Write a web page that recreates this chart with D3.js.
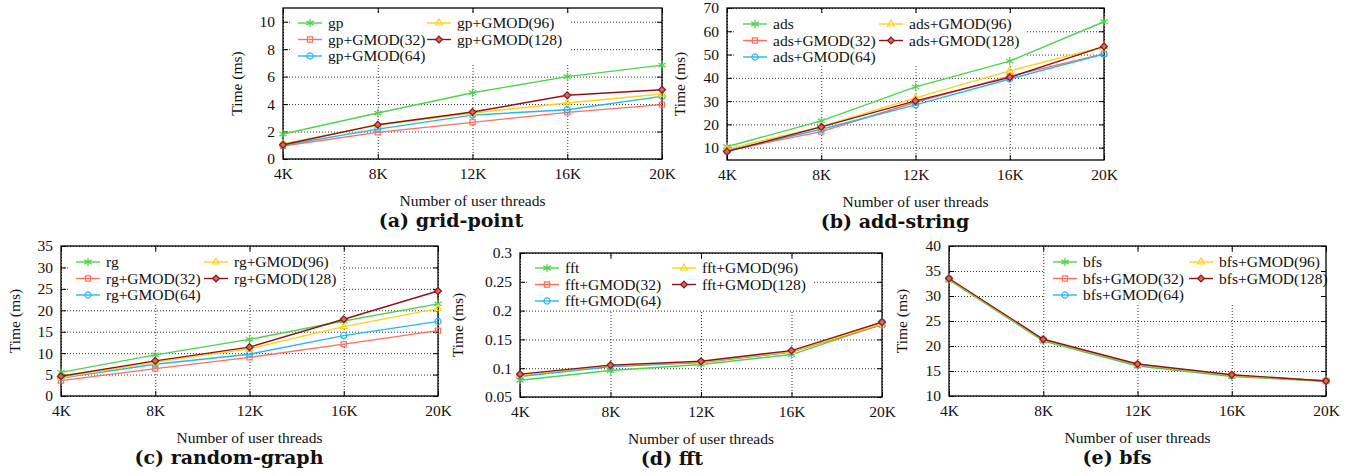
<!DOCTYPE html>
<html>
<head>
<meta charset="utf-8">
<script src="https://cdn.jsdelivr.net/npm/d3@7"></script>
<style>
  body { margin: 0; background: #fff; }
  text { font-family: "Liberation Serif", serif; fill: #111; }
  .sub { font-family: "DejaVu Serif", serif; font-weight: bold; }
</style>
</head>
<body>
<svg id="chart" width="1353" height="476"></svg>
<script>
// x categories and the five variants of every benchmark
const threads = ["4K", "8K", "12K", "16K", "20K"]
const variants = ["", "+GMOD(32)", "+GMOD(64)", "+GMOD(96)", "+GMOD(128)"]

// times in ms, one row per variant (base, 32, 64, 96, 128)
const gridPoint = [
  [1.82, 3.35, 4.83, 6.0, 6.84],
  [0.95, 1.94, 2.67, 3.40, 3.96],
  [1.0, 2.18, 3.2, 3.59, 4.56],
  [1.09, 2.48, 3.35, 4.08, 4.73],
  [1.04, 2.5, 3.42, 4.64, 5.05]
]
const addString = [
  [10.4, 21.5, 36.1, 47.2, 64.1],
  [8.7, 16.9, 29.5, 40.7, 50.3],
  [8.7, 17.9, 28.4, 39.5, 50.2],
  [9.4, 19.0, 31.4, 43.0, 53.4],
  [8.3, 18.9, 30.1, 40.2, 53.5]
]
const randomGraph = [
  [5.5, 9.6, 13.2, 17.5, 21.5],
  [3.6, 6.4, 9.0, 12.1, 15.25],
  [4.2, 7.4, 9.75, 14.1, 17.4],
  [4.3, 7.9, 11.0, 16.2, 20.4],
  [4.6, 8.2, 11.4, 17.9, 24.5]
]
const fft = [
  [0.079, 0.096, 0.1065, 0.1237, 0.176],
  [0.087, 0.103, 0.110, 0.128, 0.1756],
  [0.0857, 0.103, 0.1105, 0.1283, 0.180],
  [0.088, 0.105, 0.111, 0.129, 0.178],
  [0.0897, 0.1053, 0.112, 0.1306, 0.180]
]
const bfs = [
  [33.2, 21.0, 16.0, 13.9, 12.95],
  [33.4, 21.2, 16.2, 14.1, 13.0],
  [33.4, 21.2, 16.2, 14.1, 13.0],
  [33.4, 21.25, 16.3, 14.15, 13.0],
  [33.5, 21.35, 16.4, 14.25, 13.0]
]

// y ranges and ticks
const gpRange = [0, 11], gpTicks = [0, 2, 4, 6, 8, 10]
const adsRange = [4.7, 70], adsTicks = [10, 20, 30, 40, 50, 60, 70]
const rgRange = [0, 35], rgTicks = [0, 5, 10, 15, 20, 25, 30, 35]
const fftRange = [0.05, 0.3], fftTicks = [0.05, 0.1, 0.15, 0.2, 0.25, 0.3]
const bfsRange = [10, 40], bfsTicks = [10, 15, 20, 25, 30, 35, 40]

const colors = ["#4fd34f", "#ff6f5c", "#25b6f5", "#ffd21a", "#8e1414"]
const symbols = [d3.symbolAsterisk, d3.symbolSquare2, d3.symbolCircle, d3.symbolTriangle2, d3.symbolDiamond2]
const symSize = [50, 34, 30, 34, 30]

const panels = [
  {name: "gp", title: "(a) grid-point", data: gridPoint, dom: gpRange, ticks: gpTicks,
   l: 283, r: 662, t: 8, b: 159, yt: 46, lx: [298, 427], ly: 23, subx: 451, lw: 280},
  {name: "ads", title: "(b) add-string", data: addString, dom: adsRange, ticks: adsTicks,
   l: 727, r: 1104, t: 8, b: 160, yt: 47, lx: [743, 879], ly: 24, subx: 895, lw: 290},
  {name: "rg", title: "(c) random-graph", data: randomGraph, dom: rgRange, ticks: rgTicks,
   l: 61, r: 438, t: 246, b: 396, yt: 46, lx: [76, 204], ly: 262, subx: 229, lw: 272},
  {name: "fft", title: "(d) fft", data: fft, dom: fftRange, ticks: fftTicks,
   l: 520, r: 882, t: 253, b: 397, yt: 62, lx: [535, 672], ly: 268, subx: 672, lw: 285},
  {name: "bfs", title: "(e) bfs", data: bfs, dom: bfsRange, ticks: bfsTicks,
   l: 949, r: 1326, t: 246, b: 396, yt: 47, lx: [1053, 1189], ly: 262, subx: 1117, lw: 285}
]

const svg = d3.select("#chart")

panels.forEach((p) => {
  const g = svg.append("g")
  const x = d3.scalePoint().domain(threads).range([p.l, p.r])
  const y = d3.scaleLinear().domain(p.dom).range([p.b, p.t])
  const w = p.r - p.l
  const h = p.b - p.t

  // grid
  g.append("g")
   .attr("transform", "translate(" + p.l + ",0)")
   .call(d3.axisLeft(y).tickValues(p.ticks).tickSize(-w).tickFormat(""))
   .call((s) => s.select(".domain").remove())
   .selectAll("line").attr("stroke", "#333").attr("stroke-dasharray", "1,2")
  g.append("g")
   .attr("transform", "translate(0," + p.b + ")")
   .call(d3.axisBottom(x).tickSize(-h).tickFormat(""))
   .call((s) => s.select(".domain").remove())
   .selectAll("line").attr("stroke", "#333").attr("stroke-dasharray", "1,2")

  // legend background
  const rowH = 16.5
  g.append("rect")
   .attr("x", p.lx[0] - 8).attr("y", p.ly - 9)
   .attr("width", p.lw).attr("height", rowH * 2 + 18)
   .attr("fill", "#fff")

  // axes with inward ticks on all sides
  g.append("g").attr("transform", "translate(" + p.l + ",0)")
   .call(d3.axisLeft(y).tickValues(p.ticks).tickSize(-5).tickPadding(8).tickFormat((d) => String(d)))
  g.append("g").attr("transform", "translate(0," + p.b + ")")
   .call(d3.axisBottom(x).tickSize(-5).tickPadding(9))
  g.append("g").attr("transform", "translate(" + p.r + ",0)")
   .call(d3.axisRight(y).tickValues(p.ticks).tickSize(-5).tickFormat(""))
  g.append("g").attr("transform", "translate(0," + p.t + ")")
   .call(d3.axisTop(x).tickSize(-5).tickFormat(""))
  g.selectAll(".domain").remove()
  g.selectAll(".tick text").attr("font-family", "Liberation Serif").attr("font-size", 15.5).attr("fill", "#111")
  g.selectAll(".tick line").filter(function () { return !this.getAttribute("stroke-dasharray") })
   .attr("stroke", "#000")
  g.append("rect")
   .attr("x", p.l).attr("y", p.t).attr("width", w).attr("height", h)
   .attr("fill", "none").attr("stroke", "#000").attr("stroke-width", 1.3)

  // series
  const line = d3.line().x((d, i) => x(threads[i])).y((d) => y(d))
  p.data.forEach((vals, k) => {
    g.append("path")
     .attr("d", line(vals))
     .attr("fill", "none").attr("stroke", colors[k]).attr("stroke-width", 1.4)
    g.selectAll(".m" + k)
     .data(vals)
     .enter()
     .append("path")
     .attr("transform", (d, i) => "translate(" + x(threads[i]) + "," + y(d) + ")")
     .attr("d", d3.symbol().type(symbols[k]).size(symSize[k]))
     .attr("fill", k === 4 ? "#d06a6a" : "none")
     .attr("stroke", colors[k]).attr("stroke-width", 1.2)
  })

  // legend
  variants.forEach((v, k) => {
    const col = k < 3 ? 0 : 1
    const row = k < 3 ? k : k - 3
    const lx = p.lx[col]
    const ly = p.ly + row * rowH
    g.append("line").attr("x1", lx).attr("x2", lx + 24).attr("y1", ly).attr("y2", ly)
     .attr("stroke", colors[k]).attr("stroke-width", 1.4)
    g.append("path").attr("transform", "translate(" + (lx + 12) + "," + ly + ")")
     .attr("d", d3.symbol().type(symbols[k]).size(symSize[k]))
     .attr("fill", k === 4 ? "#d06a6a" : "none")
     .attr("stroke", colors[k]).attr("stroke-width", 1.2)
    g.append("text").attr("x", lx + 30).attr("y", ly).attr("dy", "0.35em")
     .attr("font-size", 15.5).text(p.name + v)
  })

  // titles
  g.append("text")
   .attr("transform", "translate(" + (p.l - p.yt) + "," + (p.t + h / 2) + ") rotate(-90)")
   .attr("text-anchor", "middle").attr("dy", "0.35em").attr("font-size", 15.5)
   .text("Time (ms)")
  g.append("text")
   .attr("x", p.l + w / 2).attr("y", p.b + 42).attr("dy", "0.35em")
   .attr("text-anchor", "middle").attr("font-size", 15.5)
   .text("Number of user threads")
  g.append("text").attr("class", "sub")
   .attr("x", p.subx).attr("y", p.b + 61).attr("dy", "0.35em")
   .attr("text-anchor", "middle").attr("font-size", 19)
   .text(p.title)
})
</script>
</body>
</html>
